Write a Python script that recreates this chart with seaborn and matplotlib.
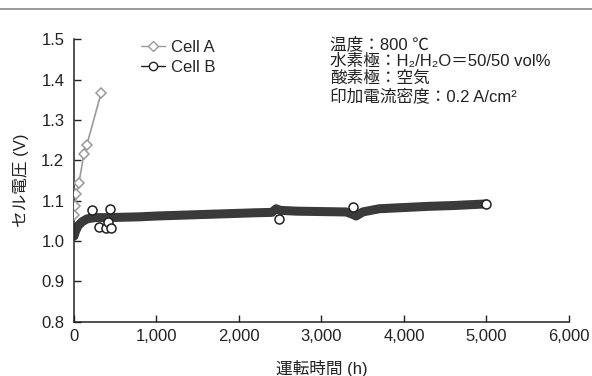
import matplotlib
matplotlib.use("Agg")
import matplotlib.pyplot as plt
from matplotlib.lines import Line2D
import seaborn as sns
import pandas as pd

# Cell A (rapid degradation)
cell_a_hours = [5, 15, 30, 60, 120, 155, 330]
cell_a_volts = [1.064, 1.087, 1.117, 1.144, 1.216, 1.238, 1.368]

# Cell B dense measurement band
cell_b_hours = [0, 20, 50, 100, 160, 250, 400, 600, 800, 1000, 1300, 1600, 1900,
                2200, 2400, 2450, 2500, 2700, 3000, 3300, 3380, 3420, 3500, 3700,
                4000, 4300, 4600, 4900, 5000]
cell_b_volts = [1.012, 1.025, 1.038, 1.048, 1.055, 1.058, 1.058, 1.059, 1.060, 1.062,
                1.064, 1.066, 1.068, 1.070, 1.071, 1.080, 1.076, 1.074, 1.073, 1.072,
                1.066, 1.062, 1.072, 1.080, 1.083, 1.086, 1.088, 1.091, 1.092]

# Cell B characterisation points (open circles)
cell_b_pt_hours = [218, 299, 392, 408, 440, 448, 2490, 3380, 5000]
cell_b_pt_volts = [1.077, 1.035, 1.033, 1.048, 1.079, 1.032, 1.055, 1.084, 1.092]

x_ticks = [0, 1000, 2000, 3000, 4000, 5000, 6000]
x_tick_labels = ["0", "1,000", "2,000", "3,000", "4,000", "5,000", "6,000"]
y_ticks = [0.8, 0.9, 1.0, 1.1, 1.2, 1.3, 1.4, 1.5]

conditions = ["温度：800 ℃",
              "水素極：H₂/H₂O＝50/50 vol%",
              "酸素極：空気",
              "印加電流密度：0.2 A/cm²"]

sns.set_style("ticks")
plt.rcParams['font.family'] = ['Liberation Sans', 'Noto Sans CJK JP', 'DejaVu Sans']

fig = plt.figure(figsize=(5.92, 3.76), dpi=100)
ax = fig.add_axes([0.125, 0.1447, 0.836, 0.7503])

df_a = pd.DataFrame({"h": cell_a_hours, "v": cell_a_volts})
df_b = pd.DataFrame({"h": cell_b_hours, "v": cell_b_volts})
df_p = pd.DataFrame({"h": cell_b_pt_hours, "v": cell_b_pt_volts})

sns.lineplot(data=df_b, x="h", y="v", ax=ax, color="#3a3a3a", linewidth=6.5,
             solid_capstyle="round", solid_joinstyle="round", zorder=2)
sns.lineplot(data=df_a, x="h", y="v", ax=ax, color="#9a9a9a", linewidth=1.2,
             marker="D", markersize=5, markerfacecolor="white",
             markeredgecolor="#9a9a9a", markeredgewidth=1.1, zorder=3)
ax.plot(df_p["h"], df_p["v"], linestyle="none", marker="o", markersize=6.5,
        markerfacecolor="white", markeredgecolor="#222222", markeredgewidth=1.1,
        zorder=4)

ax.set_xlim(0, 6000)
ax.set_ylim(0.8, 1.5)
ax.set_xticks(x_ticks)
ax.set_xticklabels(x_tick_labels)
ax.set_yticks(y_ticks)
ax.set_yticklabels([f"{v:.1f}" for v in y_ticks])
ax.tick_params(direction="in", length=5, width=1, labelsize=12, colors="#222222")
ax.tick_params(axis="y", pad=7)
ax.tick_params(axis="x", pad=5)
for s in ["left", "bottom"]:
    ax.spines[s].set_linewidth(1.1)
    ax.spines[s].set_color("#222222")
sns.despine(ax=ax)
ax.set_xlabel("運転時間 (h)", fontsize=12, labelpad=12, color="#222222")
ax.set_ylabel("セル電圧 (V)", fontsize=12, labelpad=9, color="#222222")

handles = [
    Line2D([], [], color="#9a9a9a", linewidth=1.0, marker="D", markersize=5,
           markerfacecolor="white", markeredgecolor="#9a9a9a"),
    Line2D([], [], color="#222222", linewidth=1.0, marker="o", markersize=6,
           markerfacecolor="white", markeredgecolor="#222222"),
]
leg = ax.legend(handles, ["Cell A", "Cell B"], loc="upper left",
                bbox_to_anchor=(0.106, 1.053), frameon=False, fontsize=12,
                handlelength=1.4, handletextpad=0.4, labelspacing=0.32)

ax.text(0.517, 1.012, "\n".join(conditions), transform=ax.transAxes,
        ha="left", va="top", fontsize=12, linespacing=1.17, color="#222222")

fig.add_artist(Line2D([0, 1], [1 - 8.5 / 376, 1 - 8.5 / 376],
                      transform=fig.transFigure, color="#8a8a8a", linewidth=1.2))

fig.savefig("out.png", dpi=100)
